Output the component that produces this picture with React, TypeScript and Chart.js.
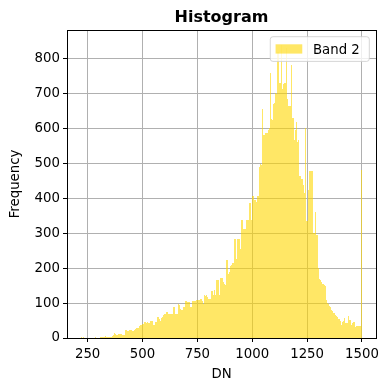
import { useEffect, useRef } from 'react';
import { Chart, registerables } from 'chart.js';

Chart.register(...registerables);

// Histogram bins: start and width (DN units)
const BIN_START = 220;
const BIN_WIDTH = 5;

// Frequency per bin (256 bins, 220 .. 1500)
const counts: number[] = [
  2, 1, 2, 0, 0, 0, 0, 1, 1, 0,
  0, 0, 1, 2, 0, 1, 0, 2, 3, 2,
  3, 4, 5, 3, 2, 3, 2, 4, 6, 9,
  13, 12, 10, 9, 11, 12, 12, 9, 9, 10,
  22, 24, 20, 19, 23, 24, 20, 19, 22, 26,
  30, 29, 30, 33, 37, 36, 40, 46, 47, 44,
  45, 42, 43, 50, 50, 48, 36, 45, 45, 60,
  60, 55, 50, 58, 60, 66, 69, 74, 74, 70,
  69, 68, 70, 69, 90, 90, 69, 70, 96, 95,
  84, 80, 79, 90, 90, 107, 107, 103, 103, 88,
  88, 107, 107, 105, 105, 109, 109, 110, 112, 112,
  105, 97, 122, 120, 124, 118, 112, 113, 135, 134,
  122, 137, 123, 166, 166, 166, 123, 172, 172, 160,
  154, 152, 223, 224, 183, 190, 206, 210, 216, 284,
  283, 226, 284, 283, 284, 255, 338, 338, 312, 312,
  338, 338, 337, 386, 386, 338, 407, 407, 395, 390,
  407, 407, 490, 498, 495, 656, 580, 581, 588, 588,
  595, 600, 758, 626, 624, 671, 674, 702, 700, 820,
  730, 729, 840, 713, 726, 730, 730, 830, 683, 664,
  664, 782, 631, 631, 567, 596, 619, 562, 567, 463,
  454, 454, 439, 414, 600, 334, 334, 425, 477, 477,
  477, 300, 300, 362, 296, 296, 200, 170, 167, 160,
  155, 153, 150, 110, 100, 96, 91, 88, 81, 76,
  72, 65, 62, 60, 55, 53, 50, 38, 45, 48,
  57, 43, 43, 64, 51, 51, 38, 43, 45, 45,
  31, 33, 33, 35, 35, 482,
];

const xTicks = [250, 500, 750, 1000, 1250, 1500];
const yTicks = [0, 100, 200, 300, 400, 500, 600, 700, 800];

const SERIES_LABEL = 'Band 2';
const TITLE = 'Histogram';
const X_LABEL = 'DN';
const Y_LABEL = 'Frequency';

const X_MIN = 156;
const X_MAX = 1564;
const Y_MAX = 882;

const FONT = "'DejaVu Sans', sans-serif";
const BAR_COLOR = 'rgba(255, 215, 0, 0.6)';
const GRID_COLOR = '#b0b0b0';

// Snap bar edges to whole pixels (like matplotlib's Agg snapping)
const snapPlugin = {
  id: 'snapBars',
  beforeDatasetsDraw(chart: any) {
    chart.data.datasets.forEach((_: any, di: number) => {
      const meta = chart.getDatasetMeta(di);
      meta.data.forEach((bar: any) => {
        const l = Math.round(bar.x - bar.width / 2);
        const r = Math.round(bar.x + bar.width / 2);
        bar.x = (l + r) / 2;
        bar.width = r - l;
        bar.y = Math.round(bar.y);
        bar.base = Math.round(bar.base);
      });
    });
  },
};

const legendPlugin = {
  id: 'mplLegend',
  afterDatasetsDraw(chart: any) {
    const { ctx, chartArea } = chart;
    const ds = chart.data.datasets[0];
    const fs = 13.3;
    ctx.save();
    ctx.font = `${fs}px ${FONT}`;
    const tw = ctx.measureText(ds.label).width;
    const right = chartArea.right - 6.7;
    const top = chartArea.top + 6.7;
    const w = 5.3 + 26.7 + 10.7 + tw + 9.5;
    const h = 24.7;
    const left = right - w;
    ctx.beginPath();
    (ctx as any).roundRect(left, top, w, h, 2.7);
    ctx.fillStyle = 'rgba(255,255,255,0.8)';
    ctx.fill();
    ctx.strokeStyle = 'rgba(204,204,204,0.8)';
    ctx.lineWidth = 1;
    ctx.stroke();
    ctx.fillStyle = ds.backgroundColor;
    ctx.fillRect(left + 5.3, top + 7.6, 26.7, 9.3);
    ctx.fillStyle = '#000';
    ctx.textBaseline = 'alphabetic';
    ctx.textAlign = 'left';
    ctx.fillText(ds.label, left + 5.3 + 26.7 + 10.7, top + 17.6);
    ctx.restore();
  },
};

export default function App() {
  const canvasRef = useRef<HTMLCanvasElement | null>(null);

  useEffect(() => {
    const canvas = canvasRef.current;
    if (!canvas) return;
    const data = counts.map((c, i) => ({ x: BIN_START + BIN_WIDTH * (i + 0.5), y: c }));
    const tickFont = { family: FONT, size: 13.3 };
    const chart = new Chart(canvas, {
      type: 'bar',
      data: {
        datasets: [
          {
            label: SERIES_LABEL,
            data,
            backgroundColor: BAR_COLOR,
            borderWidth: 0,
            barPercentage: 1,
            categoryPercentage: 1,
            inflateAmount: 0,
          },
        ],
      },
      plugins: [snapPlugin, legendPlugin],
      options: {
        responsive: false,
        animation: false,
        maintainAspectRatio: false,
        layout: { padding: { left: 0, right: 13, top: 0, bottom: 0 } },
        plugins: {
          legend: { display: false },
          tooltip: { enabled: false },
          title: {
            display: true,
            fullSize: false,
            text: TITLE,
            color: '#000',
            font: { family: FONT, size: 16, weight: 'bold' },
            padding: { top: 8, bottom: 2.8 },
          },
        },
        scales: {
          x: {
            type: 'linear',
            position: 'bottom',
            min: X_MIN,
            max: X_MAX,
            offset: false,
            afterBuildTicks: (scale: any) => {
              scale.ticks = xTicks.map((v) => ({ value: v }));
            },
            afterFit: (scale: any) => {
              scale.height = 53;
              scale.paddingLeft = 0;
              scale.paddingRight = 0;
            },
            ticks: {
              autoSkip: false,
              maxRotation: 0,
              color: '#000',
              font: tickFont,
              padding: 5,
              callback: (v: any) => String(v),
            },
            grid: {
              offset: false,
              color: GRID_COLOR,
              lineWidth: 1,
              tickColor: '#000',
              tickLength: 4,
              tickWidth: 1,
            },
            border: { display: true, color: '#000', width: 1 },
            title: {
              display: true,
              text: X_LABEL,
              color: '#000',
              font: tickFont,
              padding: { top: 0, bottom: 8.5 },
            },
          },
          y: {
            type: 'linear',
            position: 'left',
            min: 0,
            max: Y_MAX,
            afterBuildTicks: (scale: any) => {
              scale.ticks = yTicks.map((v) => ({ value: v }));
            },
            afterFit: (scale: any) => {
              scale.width = 67;
              scale.paddingTop = 0;
              scale.paddingBottom = 0;
            },
            ticks: {
              color: '#000',
              font: tickFont,
              padding: 3,
              callback: (v: any) => String(v),
            },
            grid: {
              color: GRID_COLOR,
              lineWidth: 1,
              tickColor: '#000',
              tickLength: 4,
              tickWidth: 1,
            },
            border: { display: true, color: '#000', width: 1 },
            title: {
              display: true,
              text: Y_LABEL,
              color: '#000',
              font: tickFont,
              padding: { top: 7.7, bottom: 0 },
            },
          },
          x2: {
            type: 'linear',
            position: 'top',
            display: true,
            ticks: { display: false },
            grid: { drawOnChartArea: false, drawTicks: false },
            border: { display: true, color: '#000', width: 1 },
            afterFit: (scale: any) => {
              scale.height = 0;
              scale.paddingLeft = 0;
              scale.paddingRight = 0;
            },
          },
          y2: {
            type: 'linear',
            position: 'right',
            display: true,
            ticks: { display: false },
            grid: { drawOnChartArea: false, drawTicks: false },
            border: { display: true, color: '#000', width: 1 },
            afterFit: (scale: any) => {
              scale.width = 0;
              scale.paddingTop = 0;
              scale.paddingBottom = 0;
            },
          },
        },
      } as any,
    });
    return () => chart.destroy();
  }, []);

  return (
    <div style={{ position: 'fixed', left: 0, top: 0, width: 389, height: 391, background: '#fff' }}>
      <canvas ref={canvasRef} width={389} height={391} style={{ display: 'block', width: 389, height: 391 }} />
    </div>
  );
}
